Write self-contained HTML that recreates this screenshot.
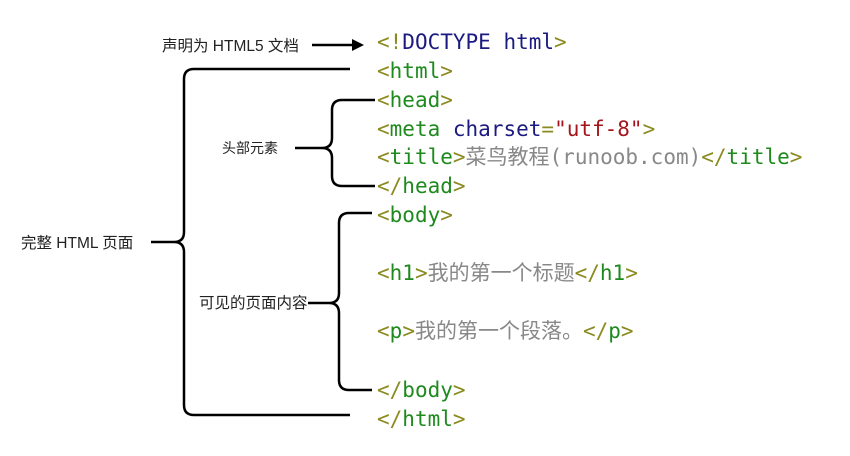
<!DOCTYPE html>
<html><head><meta charset="utf-8"><style>
html,body{margin:0;padding:0;background:#fff;width:850px;height:456px;overflow:hidden}
.c{font-family:"DejaVu Sans Mono","Liberation Mono","Noto Sans CJK SC",monospace;font-size:21px}
.l{font-family:"Liberation Sans","Noto Sans CJK SC",sans-serif;font-size:15.5px;fill:#222}
.b{fill:#8a8a1e}.g{fill:#1e8a1e}.n{fill:#1a1a80}.r{fill:#a3151a}.t{fill:#888}
</style></head><body>
<svg width="850" height="456" xmlns="http://www.w3.org/2000/svg">
<g fill="none" stroke="#000" stroke-width="2.5">
<path d="M312 45 H355"/>
<path d="M350 69 H194 Q184 69 184 79 V232 Q184 242 174 242 H151 M174 242 Q184 242 184 252 V405 Q184 415 194 415 H350"/>
<path d="M375 100 H342 Q332 100 332 110 V138 Q332 148 322 148 H295 M322 148 Q332 148 332 158 V176 Q332 186 342 186 H375"/>
<path d="M372 213 H349 Q339 213 339 223 V293 Q339 303 329 303 H308 M329 303 Q339 303 339 313 V380 Q339 390 349 390 H372"/>
</g>
<polygon points="352,39 364,45 352,51" fill="#000"/>
<text class="l" x="162" y="51">声明为 HTML5 文档</text>
<text class="l" x="222" y="153" style="font-size:14px">头部元素</text>
<text class="l" x="21" y="248">完整 HTML 页面</text>
<text class="l" x="199" y="308">可见的页面内容</text>
<g class="c">
<text x="377" y="49"><tspan class="b">&lt;!</tspan><tspan class="n">DOCTYPE html</tspan><tspan class="b">&gt;</tspan></text>
<text x="377" y="78"><tspan class="b">&lt;</tspan><tspan class="g">html</tspan><tspan class="b">&gt;</tspan></text>
<text x="377" y="107"><tspan class="b">&lt;</tspan><tspan class="g">head</tspan><tspan class="b">&gt;</tspan></text>
<text x="377" y="136"><tspan class="b">&lt;</tspan><tspan class="g">meta</tspan> <tspan class="n">charset</tspan><tspan class="b">=</tspan><tspan class="r">"utf-8"</tspan><tspan class="b">&gt;</tspan></text>
<text x="377" y="164"><tspan class="b">&lt;</tspan><tspan class="g">title</tspan><tspan class="b">&gt;</tspan><tspan class="t">菜鸟教程(runoob.com)</tspan><tspan class="b">&lt;/</tspan><tspan class="g">title</tspan><tspan class="b">&gt;</tspan></text>
<text x="377" y="193"><tspan class="b">&lt;/</tspan><tspan class="g">head</tspan><tspan class="b">&gt;</tspan></text>
<text x="377" y="222"><tspan class="b">&lt;</tspan><tspan class="g">body</tspan><tspan class="b">&gt;</tspan></text>
<text x="377" y="280"><tspan class="b">&lt;</tspan><tspan class="g">h1</tspan><tspan class="b">&gt;</tspan><tspan class="t">我的第一个标题</tspan><tspan class="b">&lt;/</tspan><tspan class="g">h1</tspan><tspan class="b">&gt;</tspan></text>
<text x="377" y="338"><tspan class="b">&lt;</tspan><tspan class="g">p</tspan><tspan class="b">&gt;</tspan><tspan class="t">我的第一个段落。</tspan><tspan class="b">&lt;/</tspan><tspan class="g">p</tspan><tspan class="b">&gt;</tspan></text>
<text x="377" y="397"><tspan class="b">&lt;/</tspan><tspan class="g">body</tspan><tspan class="b">&gt;</tspan></text>
<text x="377" y="426"><tspan class="b">&lt;/</tspan><tspan class="g">html</tspan><tspan class="b">&gt;</tspan></text>
</g>
</svg>
</body></html>
